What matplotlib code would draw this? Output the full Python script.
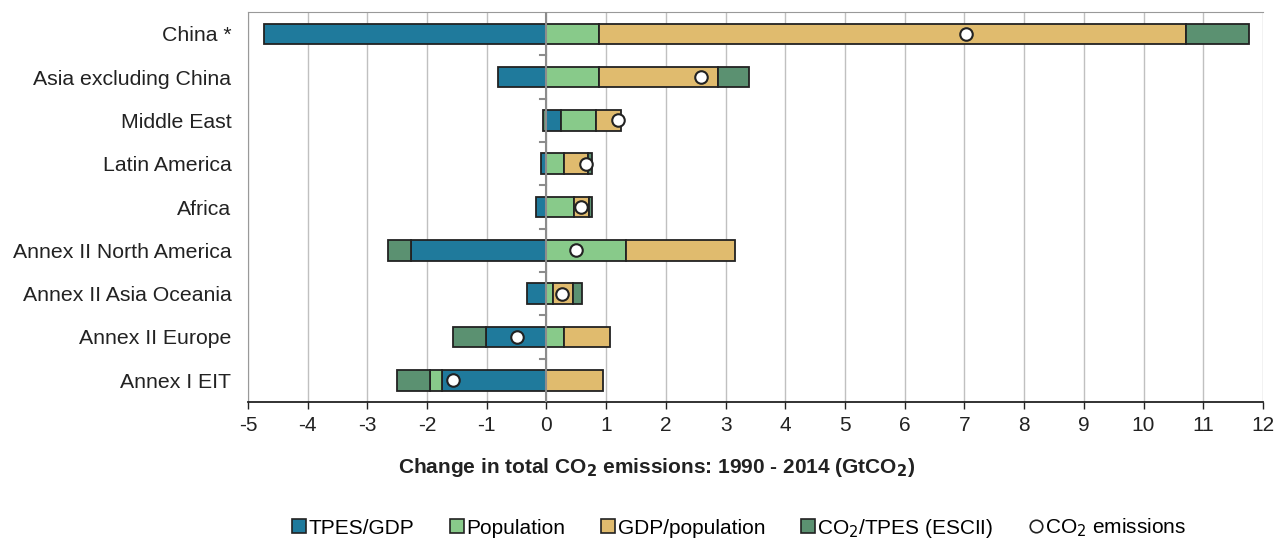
import numpy as np
import matplotlib
matplotlib.use("Agg")
import matplotlib.pyplot as plt
from matplotlib.lines import Line2D

plt.rcParams["font.family"] = ["Liberation Sans", "DejaVu Sans"]

regions = ["China *", "Asia excluding China", "Middle East", "Latin America", "Africa",
           "Annex II North America", "Annex II Asia Oceania", "Annex II Europe", "Annex I EIT"]

tpes_gdp = [-4.73, -0.81, 0.25, -0.09, -0.17, -2.27, -0.32, -1.02, -1.75]
population = [0.88, 0.88, 0.58, 0.29, 0.46, 1.33, 0.11, 0.29, -0.20]
gdp_pop = [9.83, 1.99, 0.42, 0.41, 0.25, 1.82, 0.33, 0.78, 0.95]
co2_tpes = [1.06, 0.52, -0.06, 0.06, 0.05, -0.38, 0.15, -0.54, -0.55]
co2_total = [7.03, 2.59, 1.19, 0.66, 0.57, 0.50, 0.26, -0.50, -1.56]

series = [("TPES/GDP", tpes_gdp, "#1f7a9c"),
          ("Population", population, "#88ca8a"),
          ("GDP/population", gdp_pop, "#e0bb6e"),
          ("CO$_2$/TPES (ESCII)", co2_tpes, "#5b9171")]

fig = plt.figure(figsize=(12.84, 5.39), dpi=100)
ax = fig.add_axes([0.1931, 0.2542, 0.7905, 0.7235])

y = np.arange(len(regions))
pos_base = np.zeros(len(regions))
neg_base = np.zeros(len(regions))
for name, vals, col in series:
    vals = np.array(vals)
    left = np.where(vals >= 0, pos_base, neg_base)
    ax.barh(y, vals, left=left, height=0.47, color=col, edgecolor="#222222",
            linewidth=1.3, zorder=2)
    pos_base += np.where(vals >= 0, vals, 0)
    neg_base += np.where(vals < 0, vals, 0)

ax.plot(co2_total, y, "o", markersize=9, markerfacecolor="white",
        markeredgecolor="#222222", markeredgewidth=1.5, zorder=4)

# zero axis with category separators
ax.axvline(0, color="#8c8c8c", linewidth=1.5, zorder=3)
for b in np.arange(0.5, len(regions) - 1, 1.0):
    ax.plot([-0.11, 0], [b, b], color="#8c8c8c", linewidth=1.5, zorder=3)

ax.set_xlim(-5, 12)
ax.set_ylim(len(regions) - 0.5, -0.5)
ax.set_xticks(np.arange(-5, 13, 1))
ax.set_xticklabels([str(v) for v in range(-5, 13)], fontsize=15, color="#222222")
ax.set_yticks(y)
ax.set_yticklabels(regions, fontsize=15.3, color="#222222")
ax.tick_params(axis="y", length=0, pad=12)
ax.tick_params(axis="x", length=5, width=1, color="#222222", pad=5)
ax.grid(axis="x", color="#c0c0c0", linewidth=1, zorder=0)
ax.set_axisbelow(True)

for s in ["left", "top", "right"]:
    ax.spines[s].set_color("#999999")
ax.spines["right"].set_visible(False)
ax.spines["bottom"].set_color("#222222")
ax.spines["bottom"].set_linewidth(1.3)

ax.set_xlabel("Change in total CO$_\\mathbf{2}$ emissions: 1990 - 2014 (GtCO$_\\mathbf{2}$)",
              fontsize=15, fontweight="bold", color="#222222", labelpad=15, x=0.403)

handles = [Line2D([], [], marker="s", linestyle="none", markersize=10,
                  markerfacecolor=col, markeredgecolor="#222222", markeredgewidth=1.2)
           for _, _, col in series]
handles.append(Line2D([], [], marker="o", linestyle="none", markersize=9,
                      markerfacecolor="white", markeredgecolor="#222222", markeredgewidth=1.2))
labels = [s[0] for s in series] + ["CO$_2$ emissions"]
fig.legend(handles, labels, loc="center", bbox_to_anchor=(0.575, 0.02), ncol=5,
           frameon=False, fontsize=15, handletextpad=0.0, columnspacing=1.6,
           handlelength=0.9)

fig.savefig("out.png", dpi=100)
